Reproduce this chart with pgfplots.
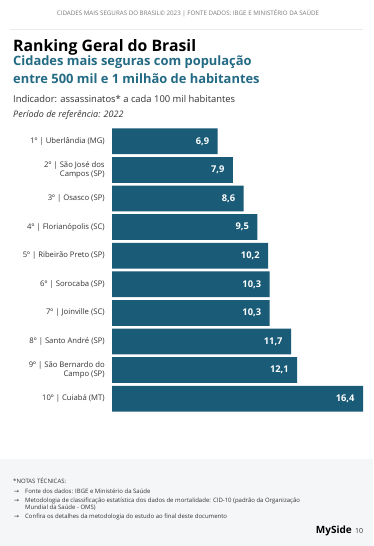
\documentclass[border=0pt]{standalone}
\usepackage{fontspec}
\setmainfont{Open Sans}
\newfontfamily\dejavu{DejaVu Sans}
\usepackage{pgfplots}
\pgfplotsset{compat=1.18}
\definecolor{barc}{HTML}{1A5C78}
\definecolor{subc}{HTML}{236A84}
\definecolor{footbg}{HTML}{F5F6F7}
\definecolor{linec}{HTML}{EAEAEA}
\definecolor{txt}{HTML}{333333}
\definecolor{hdr}{HTML}{7A7A7A}
\newcommand{\fs}[1]{\fontsize{#1}{#1}\selectfont}
\begin{document}
\begin{tikzpicture}[x=1pt,y=1pt]
\fill[white] (0,0) rectangle (373,-546);
\fill[footbg] (0,-459) rectangle (373,-546);
\draw[linec, line width=0.8pt] (10,-29.5) -- (363,-29.5);
\node[anchor=base, inner sep=0, text=hdr, font=\fs{6.2}] at (188,-15) {CIDADES MAIS SEGURAS DO BRASIL© 2023 | FONTE DADOS: IBGE E MINISTÉRIO DA SAÚDE};
\node[anchor=base west, inner sep=0, font=\fs{15.8}\bfseries] at (13,-51) {Ranking Geral do Brasil};
\node[anchor=base west, inner sep=0, text=subc, font=\fs{12.9}\bfseries] at (13,-65) {Cidades mais seguras com população};
\node[anchor=base west, inner sep=0, text=subc, font=\fs{12.9}\bfseries] at (13,-83) {entre 500 mil e 1 milhão de habitantes};
\node[anchor=base west, inner sep=0, text=txt, font=\fs{9.4}] at (13,-102) {Indicador: assassinatos* a cada 100 mil habitantes};
\node[anchor=base west, inner sep=0, text=txt, font=\fs{9}\itshape] at (13,-117) {Período de referência: 2022};
% footer
\node[anchor=base west, inner sep=0, text=txt, font=\fs{6}] at (13,-483) {*NOTAS TÉCNICAS:};
\node[anchor=base west, inner sep=0, text=txt, font=\fs{6}\dejavu] at (14,-493) {→};
\node[anchor=base west, inner sep=0, text=txt, font=\fs{6}] at (25,-493) {Fonte dos dados: IBGE e Ministério da Saúde};
\node[anchor=base west, inner sep=0, text=txt, font=\fs{6}\dejavu] at (14,-502) {→};
\node[anchor=base west, inner sep=0, text=txt, font=\fs{6}] at (25,-502) {Metodologia de classificação estatística dos dados de mortalidade: CID-10 (padrão da Organização};
\node[anchor=base west, inner sep=0, text=txt, font=\fs{6}] at (25,-509.5) {Mundial da Saúde - OMS)};
\node[anchor=base west, inner sep=0, text=txt, font=\fs{6}\dejavu] at (14,-518) {→};
\node[anchor=base west, inner sep=0, text=txt, font=\fs{6}] at (25,-518) {Confira os detalhes da metodologia do estudo ao final deste documento};
\node[anchor=base east, inner sep=0, font=\fs{10}\bfseries] at (352,-533) {MySide};
\node[anchor=base west, inner sep=0, text=txt, font=\fs{7}] at (355,-533) {10};
\begin{axis}[
  at={(112pt,-413pt)}, anchor=south west,
  scale only axis, width=251pt, height=286pt,
  xmin=0, xmax=16.4, ymin=-0.5, ymax=9.5,
  xbar, bar width=0.9,
  axis x line=none, axis y line=left,
  y axis line style={draw=none}, ytick style={draw=none},
  ytick={0,...,9},
  yticklabels={{10º | Cuiabá (MT)},{9º | São Bernardo do\\Campo (SP)},{8º | Santo André (SP)},{7º | Joinville (SC)},{6º | Sorocaba (SP)},{5º | Ribeirão Preto (SP)},{4º | Florianópolis (SC)},{3º | Osasco (SP)},{2º | São José dos\\Campos (SP)},{1º | Uberlândia (MG)}},
  yticklabel style={align=right, inner sep=0pt, xshift=-5pt, text=txt, font=\fontsize{7.7}{9.6}\selectfont},
  /pgf/number format/assume math mode=true,
  point meta=x,
  nodes near coords={\pgfmathprintnumber[fixed,fixed zerofill,precision=1,use comma,assume math mode=true]{\pgfplotspointmeta}},
  every node near coord/.append style={anchor=east, xshift=-5pt, text=white, font=\fs{9.3}\bfseries},
]
\addplot[fill=barc, draw=none] coordinates {(16.4,0) (12.1,1) (11.7,2) (10.3,3) (10.3,4) (10.2,5) (9.5,6) (8.6,7) (7.9,8) (6.9,9)};
\end{axis}
\end{tikzpicture}
\end{document}
